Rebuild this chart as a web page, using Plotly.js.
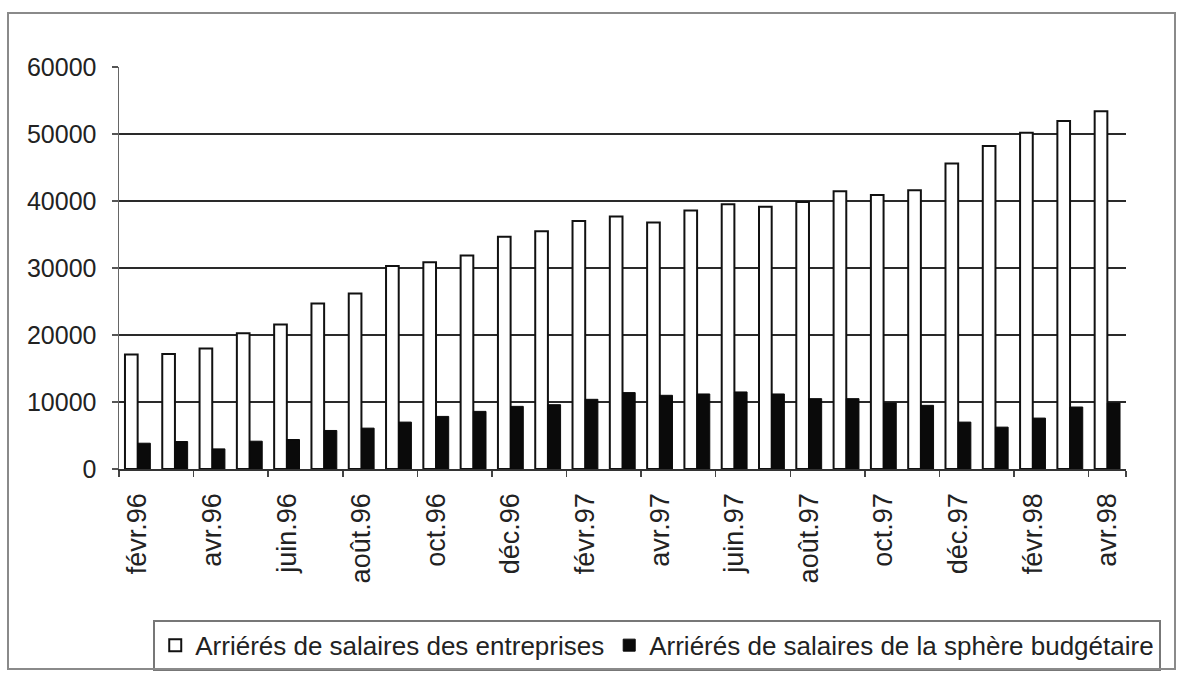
<!DOCTYPE html>
<html>
<head>
<meta charset="utf-8">
<script src="https://cdn.plot.ly/plotly-3.0.1.min.js"></script>
<style>
  html, body { margin: 0; padding: 0; background: #fff; }
  #wrap { position: relative; width: 1182px; height: 676px; }
  #chart { width: 1182px; height: 676px; }
  #frame { position: absolute; left: 7px; top: 12px; width: 1169px; height: 658px;
           border: 2px solid #8a8a8a; pointer-events: none; box-sizing: border-box; }
</style>
</head>
<body>
<div id="wrap">
  <div id="chart"></div>
  <div id="frame"></div>
</div>
<script>
// Months (categories)
var months = ['févr.96','mars.96','avr.96','mai.96','juin.96','juil.96','août.96','sept.96','oct.96','nov.96','déc.96',
              'janv.97','févr.97','mars.97','avr.97','mai.97','juin.97','juil.97','août.97','sept.97','oct.97','nov.97','déc.97',
              'janv.98','févr.98','mars.98','avr.98'];
// Arriérés de salaires des entreprises
var entreprises = [17100, 17150, 18000, 20250, 21550, 24700, 26200, 30300, 30850, 31850, 34650,
                   35500, 37000, 37700, 36800, 38600, 39500, 39150, 39850, 41450, 40900, 41600, 45600,
                   48200, 50200, 51950, 53400];
// Arriérés de salaires de la sphère budgétaire
var budgetaire = [3850, 4100, 3000, 4150, 4400, 5750, 6100, 7000, 7850, 8600, 9350,
                  9600, 10400, 11400, 11000, 11200, 11500, 11200, 10500, 10500, 9850, 9500, 7000,
                  6250, 7600, 9250, 9850];
var seriesNames = ['Arriérés de salaires des entreprises', 'Arriérés de salaires de la sphère budgétaire'];
var yTicks = [0, 10000, 20000, 30000, 40000, 50000, 60000];

// tick labels every second month
var labelVals = months.filter(function(m, i){ return i % 2 === 0; });

var font = 'Arial, "Liberation Sans", sans-serif';

var traces = [
  { type: 'bar', name: seriesNames[0], x: months, y: entreprises,
    marker: { color: '#ffffff', line: { color: '#111', width: 2 } } },
  { type: 'bar', name: seriesNames[1], x: months, y: budgetaire,
    marker: { color: '#0a0a0a', line: { color: '#0a0a0a', width: 1 } } }
];

var layout = {
  width: 1182, height: 676,
  margin: { l: 119, r: 56, t: 67, b: 207, autoexpand: false },
  paper_bgcolor: '#fff', plot_bgcolor: '#fff',
  barmode: 'group', bargap: 0.32, bargroupgap: 0,
  font: { family: font, color: '#222' },
  xaxis: {
    type: 'category', categoryorder: 'array', categoryarray: months,
    range: [-0.5, months.length - 0.5],
    tickmode: 'array', tickvals: labelVals, ticktext: labelVals,
    tickson: 'boundaries',
    ticks: 'outside', ticklen: 6, tickwidth: 1.5, tickcolor: '#444',
    ticklabelstandoff: 12,
    tickangle: -90, tickfont: { size: 27, color: '#222' },
    showgrid: false, zeroline: false,
    showline: true, linecolor: '#333', linewidth: 1.5,
    automargin: false
  },
  yaxis: {
    range: [0, 60000], tickmode: 'array', tickvals: yTicks, tickformat: 'd',
    ticks: 'outside', ticklen: 6, tickwidth: 1.5, tickcolor: '#555',
    ticklabelstandoff: 10,
    tickfont: { size: 25, color: '#222' },
    showgrid: true, gridcolor: '#2a2a2a', gridwidth: 1.5,
    zeroline: false,
    showline: true, linecolor: '#666', linewidth: 1.5,
    automargin: false
  },
  showlegend: true,
  legend: {
    orientation: 'h', x: 0.034, xanchor: 'left', y: -0.375, yanchor: 'top',
    bordercolor: '#777', borderwidth: 2, bgcolor: '#fff',
    font: { size: 26, color: '#222', family: font },
    traceorder: 'normal'
  }
};

Plotly.newPlot('chart', traces, layout, { displayModeBar: false, staticPlot: true });
</script>
</body>
</html>
